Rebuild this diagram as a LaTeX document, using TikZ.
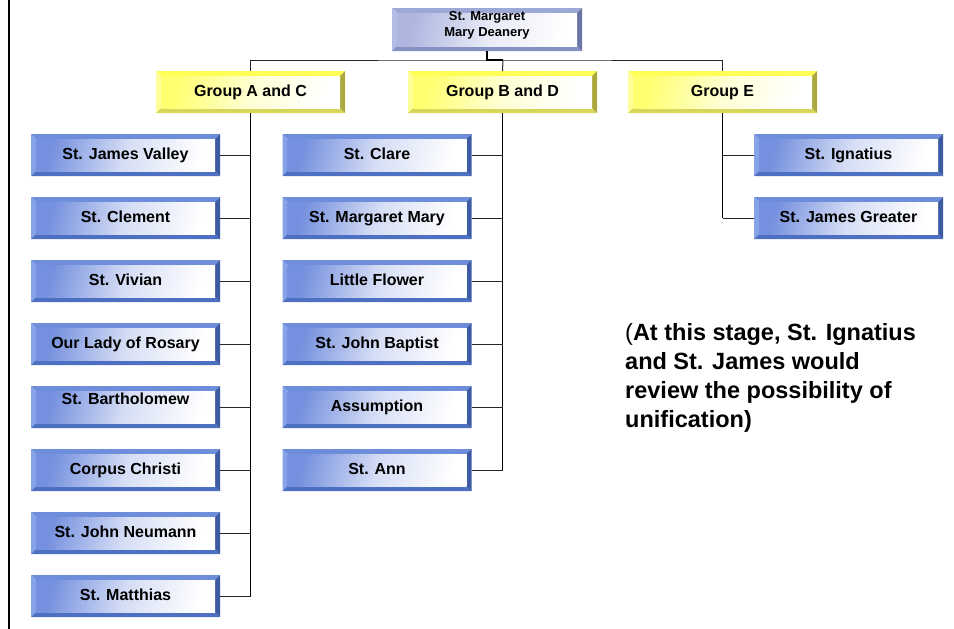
\documentclass[tikz,border=0pt]{standalone}
\usepackage{fontspec}
\setmainfont{Liberation Sans}
\definecolor{bluetop}{HTML}{6E8EDB}
\definecolor{blueleft}{HTML}{87A3E8}
\definecolor{bluebot}{HTML}{4E70C2}
\definecolor{blueright}{HTML}{3D5BA3}
\definecolor{blueface}{HTML}{7590DE}
\definecolor{yeltop}{HTML}{FFFF55}
\definecolor{yelleft}{HTML}{FFFF99}
\definecolor{yelbot}{HTML}{D6D65A}
\definecolor{yelright}{HTML}{A9A93E}
\definecolor{yelface}{HTML}{FFFF70}
\definecolor{greytop}{HTML}{9CA8D6}
\definecolor{greyleft}{HTML}{B2BCE4}
\definecolor{greybot}{HTML}{8590C4}
\definecolor{greyright}{HTML}{6A75A6}
\definecolor{greyface}{HTML}{AEB6E0}

\begin{document}
\begin{tikzpicture}[x=1pt,y=-1pt]
    \tikzstyle{bevel}=[rectangle, inner sep=0pt, minimum width=189pt, minimum height=42pt,
      text height=11.5pt, text depth=3.5pt, font=\bfseries\fontsize{16}{18}\selectfont]
    \tikzset{bevelfill/.style n args={5}{path picture={
      \path (path picture bounding box.south west) coordinate (bsw);
      \path (path picture bounding box.north east) coordinate (bne);
      \path ([shift={(5pt,5pt)}]bsw) coordinate (isw);
      \path ([shift={(-5pt,-5pt)}]bne) coordinate (ine);
      \fill[#1] (bsw |- bne) -- (bne) -- (ine) -- (isw |- ine) -- cycle;
      \fill[#2] (bsw) -- (bsw |- bne) -- (isw |- ine) -- (isw) -- cycle;
      \fill[#3] (bsw) -- (bne |- bsw) -- (ine |- isw) -- (isw) -- cycle;
      \fill[#4] (bne |- bsw) -- (bne) -- (ine) -- (ine |- isw) -- cycle;
      \shade[left color=#5, right color=white, middle color=white!70!#5, shading angle=75] (isw) rectangle (ine);}}}
    \tikzstyle{parish}=[bevel, bevelfill={bluetop}{blueleft}{bluebot}{blueright}{blueface}]
    \tikzstyle{group}=[bevel, bevelfill={yeltop}{yelleft}{yelbot}{yelright}{yelface}]
    \tikzstyle{deanery}=[bevel, minimum width=190pt, minimum height=43pt, align=center,
      text height=25pt, text depth=12pt,
      font=\bfseries\fontsize{13}{16}\selectfont, bevelfill={greytop}{greyleft}{greybot}{greyright}{greyface}]
    \tikzstyle{link}=[line width=1pt, black!85]
    \tikzstyle{trunk}=[line width=1.6pt, black]
    \useasboundingbox (0,0) rectangle (954,629);
    \draw[line width=2pt] (8.5,0) -- (8.5,629);

    \node[deanery] (dean) at (487,29.5) {St. Margaret\\Mary Deanery};
    \node[group] (grpAC) at (250.5,92) {Group A and C};
    \node[group] (grpBD) at (502.5,92) {Group B and D};
    \node[group] (grpE) at (722.5,92) {Group E};

    % group A and C
    \node[parish] (jamesv) at (125.5,155) {St. James Valley};
    \node[parish] (clement) at (125.5,218) {St. Clement};
    \node[parish] (vivian) at (125.5,281) {St. Vivian};
    \node[parish] (rosary) at (125.5,344) {Our Lady of Rosary};
    \node[parish, text depth=17pt] (bartholomew) at (125.5,407) {St. Bartholomew};
    \node[parish] (corpus) at (125.5,470) {Corpus Christi};
    \node[parish] (neumann) at (125.5,533) {St. John Neumann};
    \node[parish] (matthias) at (125.5,596) {St. Matthias};

    % group B and D
    \node[parish] (clare) at (377,155) {St. Clare};
    \node[parish] (margaret) at (377,218) {St. Margaret Mary};
    \node[parish] (flower) at (377,281) {Little Flower};
    \node[parish] (baptist) at (377,344) {St. John Baptist};
    \node[parish] (assumption) at (377,407) {Assumption};
    \node[parish] (ann) at (377,470) {St. Ann};

    % group E
    \node[parish] (ignatius) at (848.5,155) {St. Ignatius};
    \node[parish] (greater) at (848.5,218) {St. James Greater};

    \node[anchor=north west, align=left, inner sep=0pt,
      font=\bfseries\fontsize{23.5}{29}\selectfont] (note) at (625,323)
      {{\mdseries(}At this stage, St. Ignatius\\and St. James would\\review the possibility of\\unification)};

    % connectors
    \coordinate (hub) at (503,60);
    \draw[link] (grpAC.north) |- (hub) -| (grpE.north);
    \draw[link] (hub) -- (grpBD.north);
    \draw[trunk] (dean.south) |- (hub);

    \draw[trunk] (grpAC.south) -- (grpAC.south |- matthias.east);
    \foreach \n in {jamesv,clement,vivian,rosary,bartholomew,corpus,neumann,matthias}
      \draw[link] (\n.east) -- (\n.east -| grpAC.south);
    \draw[trunk] (grpBD.south) -- (grpBD.south |- ann.east);
    \foreach \n in {clare,margaret,flower,baptist,assumption,ann}
      \draw[link] (\n.east) -- (\n.east -| grpBD.south);
    \draw[trunk] (grpE.south) -- (grpE.south |- greater.west);
    \foreach \n in {ignatius,greater}
      \draw[link] (\n.west) -- (\n.west -| grpE.south);
\end{tikzpicture}
\end{document}
